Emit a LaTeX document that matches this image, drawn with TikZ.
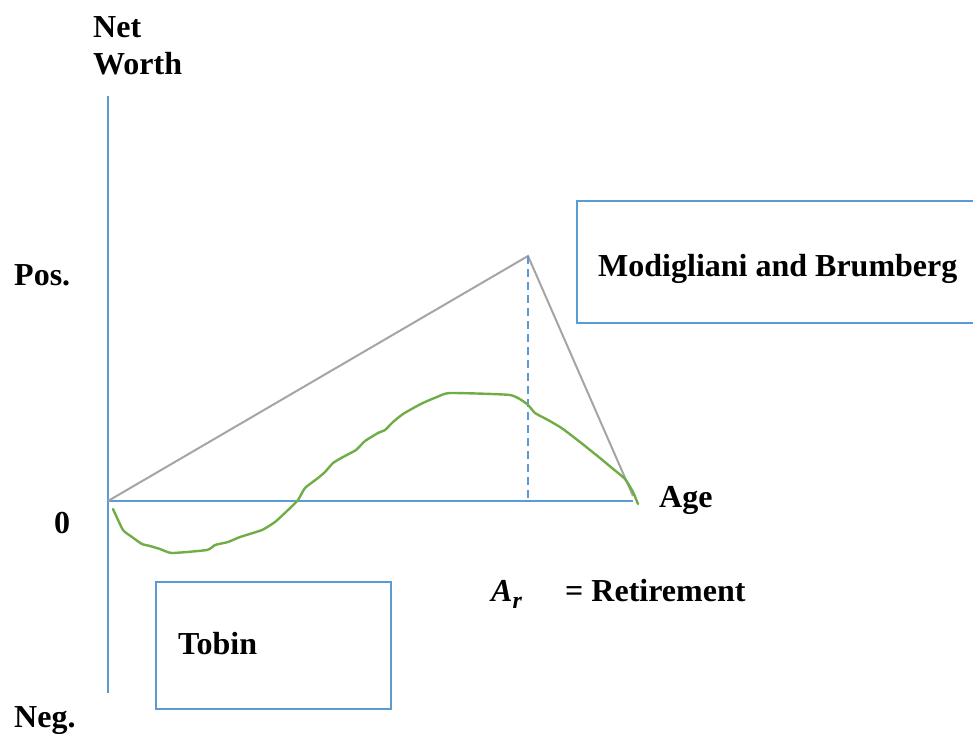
\documentclass[tikz,border=0pt]{standalone}
\usepackage{fontspec}
\setmainfont{Liberation Serif}
\definecolor{axisblue}{RGB}{91,155,213}
\definecolor{profilegray}{RGB}{165,165,165}
\definecolor{wealthgreen}{RGB}{112,173,71}
\begin{document}
\begin{tikzpicture}[x=1pt,y=-1pt,
  lbl/.style={font=\fontsize{32}{37}\selectfont\bfseries, inner sep=0pt},
  axis/.style={draw=axisblue, line width=1.2pt},
  frame/.style={draw=axisblue, line width=2pt},
  profile/.style={draw=profilegray, line width=2pt},
  wealth/.style={draw=wealthgreen, line width=2.4pt, line join=round, line cap=round}]
\useasboundingbox (0,0) rectangle (973,733);
% axes
\coordinate (top) at (108,96);
\coordinate (bottom) at (108,693);
\coordinate (origin) at (108,501);
\coordinate (ageend) at (633,501);
\coordinate (peak) at (528,256);
\coordinate (retire) at (528,501);
\coordinate (death) at (633,496);
\draw[axis] (top) -- (bottom);
\draw[axis] (origin) -- (ageend);
% life-cycle saving profile (triangle)
\draw[profile] (origin) -- (peak) -- (death);
\draw[axis, dash pattern=on 8pt off 5pt] (peak) -- (retire);
% empirical wealth curve
\draw[wealth] plot[smooth, tension=0.3] coordinates {
 (113,509) (123,530) (132,537) (142,544) (150,546) (160,549) (172,553)
 (207,550) (215,545) (228,542) (240,537) (262,530) (275,522) (287,511)
 (298,500) (305,488) (318,478) (325,472) (333,463) (343,457) (356,450)
 (365,441) (378,433) (385,430) (393,422) (403,414) (417,406) (425,402)
 (437,397) (450,393) (510,395) (527,404) (535,413) (548,420) (560,427)
 (567,432) (580,442) (590,450) (600,458) (612,468) (625,479) (633,492) (638,504)};
% boxes
\node[frame, minimum width=397pt, minimum height=122pt, anchor=north west] (mb) at (576,200) {};
\node[lbl, anchor=base west] (mbtext) at (598,276) {Modigliani and Brumberg};
\node[frame, minimum width=235pt, minimum height=127pt, anchor=north west] (tb) at (155,581) {};
\node[lbl, anchor=base west] (tbtext) at (178,654) {Tobin};
% axis labels
\node[lbl, anchor=base west] (net) at (93,38) {Net};
\node[lbl, anchor=base west] (worth) at (93,75) {Worth};
\node[lbl, anchor=base west] (pos) at (14,285) {Pos.};
\node[lbl, anchor=base west] (zero) at (54,533) {0};
\node[lbl, anchor=base west] (neg) at (14,727) {Neg.};
\node[lbl, anchor=base west] (age) at (659,507) {Age};
\node[lbl, anchor=base west] (ar) at (491,601) {\itshape A\raisebox{-0.22em}{\fontsize{24}{26}\selectfont r}};
\node[lbl, anchor=base west] (ret) at (565,601) {= Retirement};
\end{tikzpicture}
\end{document}
